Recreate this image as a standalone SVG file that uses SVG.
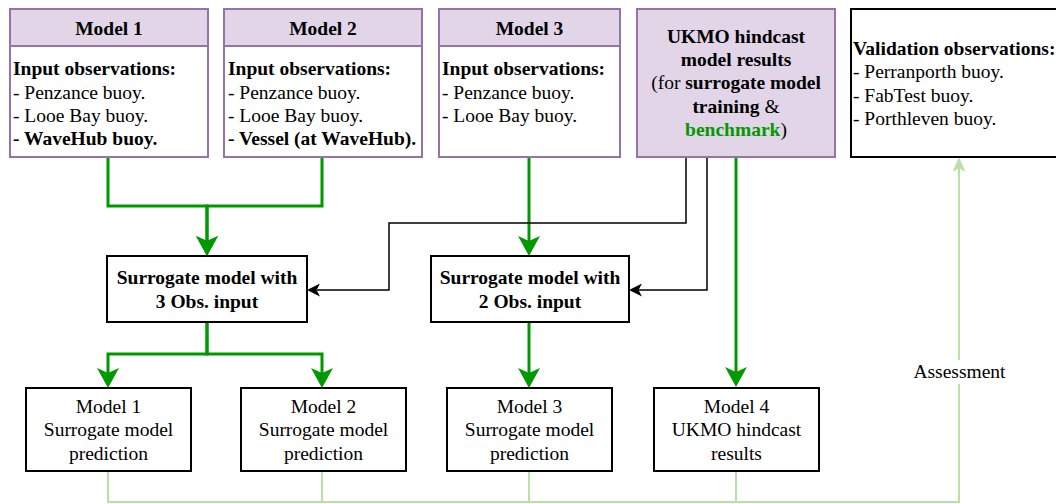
<svg xmlns="http://www.w3.org/2000/svg" width="1056" height="504" viewBox="0 0 1056 504">
<style>
text{font-family:"Liberation Serif","Times New Roman",serif;font-size:19.5px;fill:#000}
.b{font-weight:bold}
.c{text-anchor:middle}
.pbox{fill:#ffffff;stroke:#9673a6;stroke-width:2}
.phead{fill:#e1d5e7;stroke:#9673a6;stroke-width:2}
.kbox{fill:#ffffff;stroke:#000000;stroke-width:2}
.g{fill:none;stroke:#009900;stroke-width:3}
.k{fill:none;stroke:#000000;stroke-width:1.5}
.lg{fill:none;stroke:#b9e0a5;stroke-width:2}
.grn{fill:#009900}
</style>
<defs>
<marker id="ag" markerUnits="userSpaceOnUse" viewBox="0 0 20 22" markerWidth="20" markerHeight="22" refX="5" refY="11" orient="auto">
<path d="M0,0 L20,11 L0,22 L5,11 Z" fill="#009900"/>
</marker>
<marker id="ak" markerUnits="userSpaceOnUse" viewBox="0 0 13 13" markerWidth="13" markerHeight="13" refX="3.5" refY="6.5" orient="auto">
<path d="M0,0 L13,6.5 L0,13 L3.5,6.5 Z" fill="#000000"/>
</marker>
<marker id="al" markerUnits="userSpaceOnUse" viewBox="0 0 15 13" markerWidth="15" markerHeight="13" refX="4" refY="6.5" orient="auto">
<path d="M0,0 L15,6.5 L0,13 L4,6.5 Z" fill="#b9e0a5"/>
</marker>
</defs>

<g id="connectors">
<path class="g" d="M108,157 V206 H207 V241" marker-end="url(#ag)"/>
<path class="g" d="M322,157 V206 H207 V241" marker-end="url(#ag)"/>
<path class="g" d="M529,157 V241" marker-end="url(#ag)"/>
<path class="g" d="M736,157 V372" marker-end="url(#ag)"/>
<path class="g" d="M207,322 V354 H108 V373" marker-end="url(#ag)"/>
<path class="g" d="M207,322 V354 H322 V373" marker-end="url(#ag)"/>
<path class="g" d="M529,322 V373" marker-end="url(#ag)"/>
<path class="k" d="M686,157 V223 H389 V290 H316.5" marker-end="url(#ak)"/>
<path class="k" d="M707,157 V290 H638.5" marker-end="url(#ak)"/>
<path class="lg" d="M108,471 V502 H959 V168" marker-end="url(#al)"/>
<path class="lg" d="M322,471 V502"/>
<path class="lg" d="M529,471 V502"/>
<path class="lg" d="M736,471 V502"/>
<rect x="909" y="360" width="100" height="24" fill="#ffffff"/>
<text class="c" x="959.5" y="378">Assessment</text>
</g>

<g id="model1">
<rect class="pbox" x="10" y="9" width="198" height="148"/>
<rect class="phead" x="10" y="9" width="198" height="37"/>
<text class="b c" x="109" y="35">Model 1</text>
<text class="b" x="13" y="75">Input observations:</text>
<text x="13" y="98.5">- Penzance buoy.</text>
<text x="13" y="122">- Looe Bay buoy.</text>
<text class="b" x="13" y="145">- WaveHub buoy.</text>
</g>

<g id="model2">
<rect class="pbox" x="224" y="9" width="198" height="148"/>
<rect class="phead" x="224" y="9" width="198" height="37"/>
<text class="b c" x="323" y="35">Model 2</text>
<text class="b" x="228" y="75">Input observations:</text>
<text x="228" y="98.5">- Penzance buoy.</text>
<text x="228" y="122">- Looe Bay buoy.</text>
<text class="b" x="228" y="145">- Vessel (at WaveHub).</text>
</g>

<g id="model3">
<rect class="pbox" x="439" y="9" width="181" height="148"/>
<rect class="phead" x="439" y="9" width="181" height="37"/>
<text class="b c" x="529.5" y="35">Model 3</text>
<text class="b" x="442" y="75">Input observations:</text>
<text x="442" y="98.5">- Penzance buoy.</text>
<text x="442" y="122">- Looe Bay buoy.</text>
</g>

<g id="ukmo">
<rect class="phead" x="637" y="9" width="198" height="148"/>
<text class="b c" x="736" y="42.5">UKMO hindcast</text>
<text class="b c" x="736" y="66">model results</text>
<text class="c" x="736" y="89">(for <tspan class="b">surrogate model</tspan></text>
<text class="c" x="736" y="112.5"><tspan class="b">training</tspan> &amp;</text>
<text class="c" x="736" y="136"><tspan class="b grn">benchmark</tspan>)</text>
</g>

<g id="validation">
<rect class="kbox" x="851" y="9" width="220" height="148"/>
<text class="b" x="853" y="55">Validation observations:</text>
<text x="853" y="78">- Perranporth buoy.</text>
<text x="853" y="101.5">- FabTest buoy.</text>
<text x="853" y="125">- Porthleven buoy.</text>
</g>

<g id="surrogate3">
<rect class="kbox" x="107" y="256" width="200" height="66"/>
<text class="b c" x="207" y="284">Surrogate model with</text>
<text class="b c" x="207" y="307.5">3 Obs. input</text>
</g>

<g id="surrogate2">
<rect class="kbox" x="431" y="256" width="198" height="66"/>
<text class="b c" x="530" y="284">Surrogate model with</text>
<text class="b c" x="530" y="307.5">2 Obs. input</text>
</g>

<g id="pred1">
<rect class="kbox" x="26" y="388" width="165" height="83"/>
<text class="c" x="108.5" y="412.5">Model 1</text>
<text class="c" x="108.5" y="436">Surrogate model</text>
<text class="c" x="108.5" y="459.5">prediction</text>
</g>

<g id="pred2">
<rect class="kbox" x="241" y="388" width="165" height="83"/>
<text class="c" x="323.5" y="412.5">Model 2</text>
<text class="c" x="323.5" y="436">Surrogate model</text>
<text class="c" x="323.5" y="459.5">prediction</text>
</g>

<g id="pred3">
<rect class="kbox" x="447" y="388" width="165" height="83"/>
<text class="c" x="529.5" y="412.5">Model 3</text>
<text class="c" x="529.5" y="436">Surrogate model</text>
<text class="c" x="529.5" y="459.5">prediction</text>
</g>

<g id="pred4">
<rect class="kbox" x="654" y="388" width="165" height="83"/>
<text class="c" x="736.5" y="412.5">Model 4</text>
<text class="c" x="736.5" y="436">UKMO hindcast</text>
<text class="c" x="736.5" y="459.5">results</text>
</g>
</svg>
